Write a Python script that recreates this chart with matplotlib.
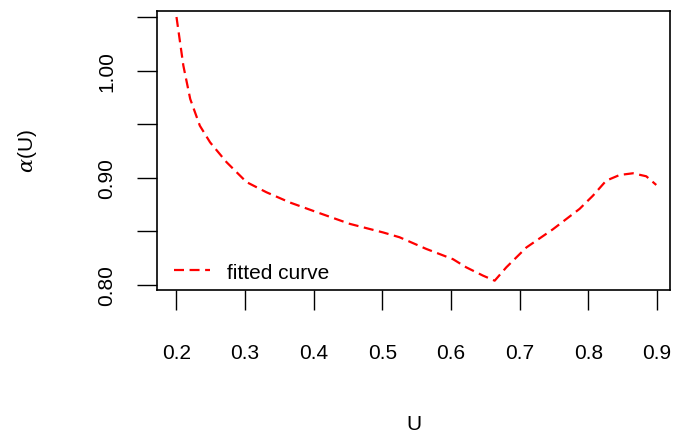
import matplotlib
matplotlib.use("Agg")
import matplotlib.pyplot as plt

plt.rcParams['font.family'] = ['Liberation Sans', 'DejaVu Sans']
plt.rcParams['mathtext.fontset'] = 'dejavuserif'

U = [0.200, 0.210, 0.220, 0.234, 0.249, 0.273, 0.302, 0.331, 0.365, 0.404,
     0.4525, 0.501, 0.525, 0.564, 0.603, 0.622, 0.6466, 0.6636, 0.6806, 0.7098,
     0.7485, 0.7873, 0.8067, 0.826, 0.8456, 0.865, 0.8844, 0.899]
alpha = [1.050, 1.0046, 0.9735, 0.9486, 0.933, 0.9145, 0.896, 0.8865, 0.877, 0.868,
         0.857, 0.849, 0.8445, 0.8336, 0.824, 0.8165, 0.8087, 0.804, 0.8165, 0.835,
         0.852, 0.871, 0.8833, 0.8973, 0.9026, 0.9042, 0.9014, 0.8933]

xticks = [0.2, 0.3, 0.4, 0.5, 0.6, 0.7, 0.8, 0.9]
xticklabels = ["0.2", "0.3", "0.4", "0.5", "0.6", "0.7", "0.8", "0.9"]
yticks = [0.80, 0.85, 0.90, 0.95, 1.00, 1.05]
yticklabels = ["0.80", "", "0.90", "", "1.00", ""]

W, H = 674, 435
fig = plt.figure(figsize=(W / 100, H / 100), dpi=100)
left, right, top, bottom = 157, 670, 12, 291
ax = fig.add_axes([left / W, 1 - bottom / H, (right - left) / W, (bottom - top) / H])

ax.plot(U, alpha, color='red', lw=1.6, linestyle=(0, (4.5, 2.5)), label='fitted curve')

ax.set_xlim(0.1716, 0.919)
ax.set_ylim(0.7953, 1.0556)
ax.set_xticks(xticks)
ax.set_xticklabels(xticklabels, fontsize=15)
ax.set_yticks(yticks)
ax.set_yticklabels(yticklabels, fontsize=15, rotation=90, va='center')
ax.tick_params(axis='both', direction='out', length=14.4, width=1.0, color='black')
ax.tick_params(axis='x', pad=24)
ax.tick_params(axis='y', pad=15)
for s in ax.spines.values():
    s.set_linewidth(1.2)
    s.set_color('black')

ax.set_xlabel('U', fontsize=15, labelpad=37)
ax.set_ylabel(r'$\alpha$(U)', fontsize=15, labelpad=42)

ax.legend(loc='lower left', frameon=False, fontsize=15, handlelength=1.75,
          handletextpad=0.8, bbox_to_anchor=(0.016, 0.0), borderaxespad=0.0)

fig.savefig('out.png', dpi=100)
